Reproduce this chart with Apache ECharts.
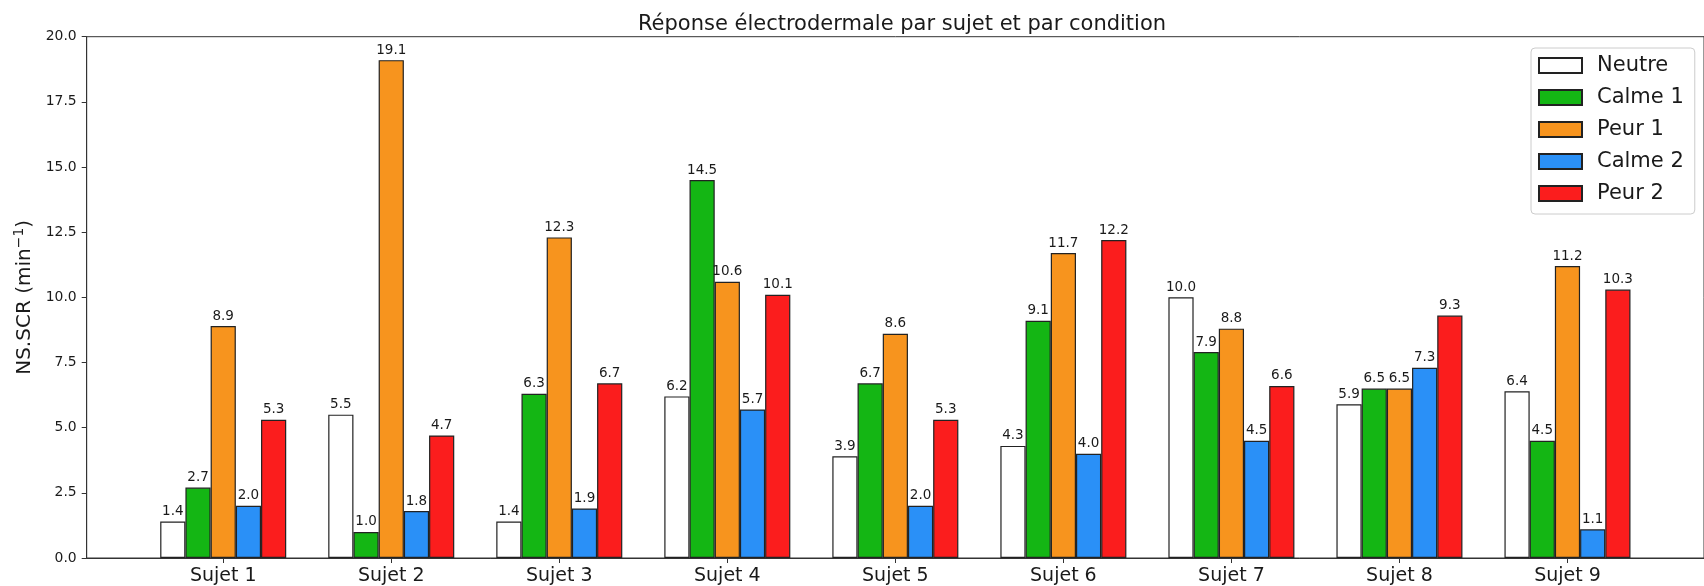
<!DOCTYPE html>
<html>
<head>
<meta charset="utf-8">
<title>Réponse électrodermale par sujet et par condition</title>
<script src="https://cdn.jsdelivr.net/npm/echarts@6/dist/echarts.min.js"></script>
<style>
  html, body { margin: 0; padding: 0; background: #ffffff; }
  #chart { width: 1704px; height: 586px; }
</style>
</head>
<body>
<div id="chart"></div>
<script>
// Subjects along the x axis
const subjects = ['Sujet 1', 'Sujet 2', 'Sujet 3', 'Sujet 4', 'Sujet 5', 'Sujet 6', 'Sujet 7', 'Sujet 8', 'Sujet 9'];

// NS.SCR (per minute) for each condition, one value per subject
const neutre = [1.4, 5.5, 1.4, 6.2, 3.9, 4.3, 10.0, 5.9, 6.4];
const calme1 = [2.7, 1.0, 6.3, 14.5, 6.7, 9.1, 7.9, 6.5, 4.5];
const peur1  = [8.9, 19.1, 12.3, 10.6, 8.6, 11.7, 8.8, 6.5, 11.2];
const calme2 = [2.0, 1.8, 1.9, 5.7, 2.0, 4.0, 4.5, 7.3, 1.1];
const peur2  = [5.3, 4.7, 6.7, 10.1, 5.3, 12.2, 6.6, 9.3, 10.3];

// Y tick values
const yTicks = [0, 2.5, 5, 7.5, 10, 12.5, 15, 17.5, 20];

const FONT = 'DejaVu Sans';
const INK = '#1a1a1a';

const conditions = [
  { name: 'Neutre',  values: neutre, color: '#ffffff' },
  { name: 'Calme 1', values: calme1, color: '#14b614' },
  { name: 'Peur 1',  values: peur1,  color: '#f7941e' },
  { name: 'Calme 2', values: calme2, color: '#2a90f7' },
  { name: 'Peur 2',  values: peur2,  color: '#fb1d1d' }
];

const subjectPos = subjects.map((_, i) => i);

const series = conditions.map(c => ({
  name: c.name,
  type: 'bar',
  data: c.values.map((v, i) => [i, v]),
  barWidth: '15%',
  barGap: '0%',
  itemStyle: { color: c.color, borderColor: '#222', borderWidth: 1.2 },
  label: {
    show: true,
    position: 'top',
    distance: 3,
    fontFamily: FONT,
    fontSize: 13.5,
    color: INK,
    formatter: p => p.value[1].toFixed(1)
  },
  emphasis: { disabled: true },
  animation: false
}));

const chart = echarts.init(document.getElementById('chart'), null, { renderer: 'canvas' });
chart.setOption({
  animation: false,
  backgroundColor: '#ffffff',
  title: {
    text: 'Réponse électrodermale par sujet et par condition',
    left: 897,
    textAlign: 'center',
    top: 9,
    textStyle: { fontFamily: FONT, fontSize: 21, fontWeight: 'normal', color: INK }
  },
  legend: {
    orient: 'vertical',
    left: 1531,
    top: 48,
    padding: [7, 11, 10, 7],
    itemWidth: 43,
    itemHeight: 15,
    itemGap: 11,
    backgroundColor: 'rgba(255,255,255,0.8)',
    borderColor: '#cccccc',
    borderWidth: 1,
    borderRadius: 4,
    icon: 'rect',
    textStyle: { fontFamily: FONT, fontSize: 21, color: INK, lineHeight: 21, padding: [0, 0, 0, 10] },
    data: conditions.map(c => c.name)
  },
  grid: {
    left: 86.7,
    right: -4,
    top: 36.7,
    bottom: 27.3,
    show: true,
    borderColor: '#333',
    borderWidth: 1,
    backgroundColor: 'transparent'
  },
  xAxis: {
    type: 'value',
    min: -0.8125,
    max: 8.8125,
    splitLine: { show: false },
    axisLine: { show: true, onZero: false, lineStyle: { color: '#333', width: 1 } },
    axisTick: { show: true, inside: false, length: 5, customValues: subjectPos, lineStyle: { color: '#333' } },
    axisLabel: {
      customValues: subjectPos,
      margin: 9,
      fontFamily: FONT,
      fontSize: 19,
      color: INK,
      formatter: v => subjects[Math.round(v)]
    }
  },
  yAxis: {
    type: 'value',
    min: 0,
    max: 20,
    interval: 2.5,
    splitLine: { show: false },
    axisLine: { show: true, onZero: false, lineStyle: { color: '#333', width: 1 } },
    axisTick: { show: true, inside: false, length: 5, customValues: yTicks, lineStyle: { color: '#333' } },
    axisLabel: {
      margin: 10,
      fontFamily: FONT,
      fontSize: 13.9,
      color: INK,
      formatter: v => v.toFixed(1)
    },
    name: '{main|NS.SCR (min}{sup|−1}{main|)}',
    nameLocation: 'middle',
    nameRotate: 90,
    nameGap: 46,
    nameTextStyle: {
      fontFamily: FONT,
      fontSize: 20,
      color: INK,
      rich: {
        main: { fontFamily: FONT, fontSize: 20, color: INK, verticalAlign: 'bottom' },
        sup: { fontFamily: FONT, fontSize: 14, color: INK, verticalAlign: 'bottom', padding: [0, 0, 9, 0] }
      }
    }
  },
  series: series
});
</script>
</body>
</html>
